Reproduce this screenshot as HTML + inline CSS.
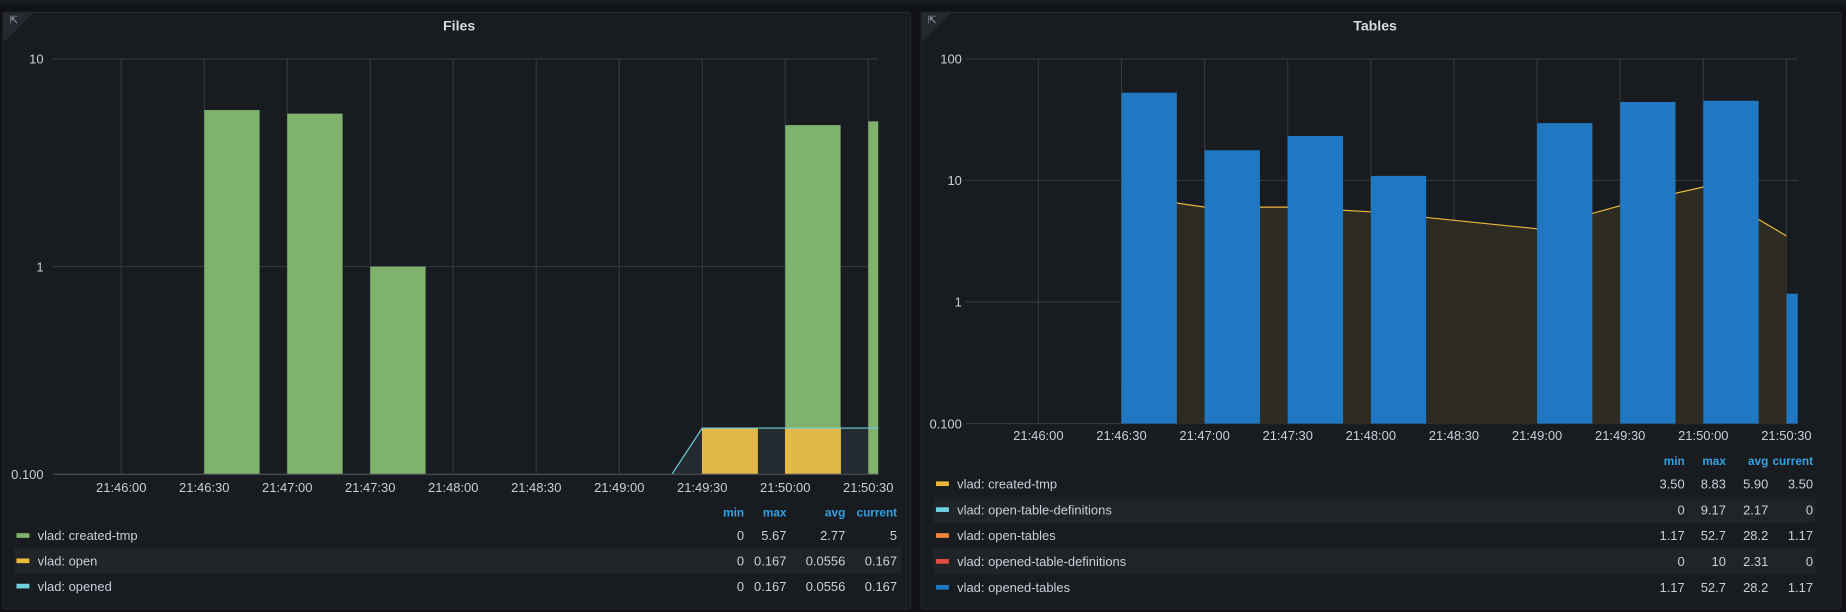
<!DOCTYPE html>
<html><head><meta charset="utf-8">
<style>
html,body{margin:0;padding:0;background:#111217;width:1846px;height:612px;overflow:hidden}
svg{display:block}
text{font-family:"Liberation Sans",sans-serif}
</style></head>
<body>
<svg id="root" width="1846" height="612" viewBox="0 0 1568 520" preserveAspectRatio="none" xmlns="http://www.w3.org/2000/svg">
<rect x="0" y="0" width="1568" height="520" fill="#111217"/>
<rect x="0" y="0" width="1568" height="3" fill="#181b1f"/>
<g>
<rect x="2.5" y="10.5" width="771" height="507" rx="2" fill="#181b1f" stroke="#24272c"/>
<path d="M3 11 L28 11 L3 36 Z" fill="#25282e"/>
<text x="8" y="20" font-size="9" fill="#9fa7b3">⇱</text>
<text x="390" y="26" font-size="12" font-weight="bold" fill="#d8d9da" text-anchor="middle">Files</text>
<g id="filesChart"></g>
<g id="filesLegend"></g>
</g>
<g>
<rect x="782.5" y="10.5" width="781" height="507" rx="2" fill="#181b1f" stroke="#24272c"/>
<path d="M783 11 L808 11 L783 36 Z" fill="#25282e"/>
<text x="788" y="20" font-size="9" fill="#9fa7b3">⇱</text>
<text x="1168" y="26" font-size="12" font-weight="bold" fill="#d8d9da" text-anchor="middle">Tables</text>
<g id="tablesChart"></g>
<g id="tablesLegend"></g>
</g>
</svg>
<script>
// ---------- data ----------
const timeTicks = ["21:46:00","21:46:30","21:47:00","21:47:30","21:48:00","21:48:30","21:49:00","21:49:30","21:50:00","21:50:30"];
// Files panel
const filesYTicks = [10, 1, 0.1];
const filesYTickLabels = ["10","1","0.100"];
const createdTmpTimes = ["21:46:30","21:47:00","21:47:30","21:50:00","21:50:30"];
const createdTmpValues = [5.67, 5.45, 1, 4.8, 5];
const openTimes = ["21:49:30","21:50:00"];
const openValues = [0.167, 0.167];
const openedTimes = ["21:49:19","21:49:30","21:50:00","21:50:30"];
const openedValues = [0.1, 0.167, 0.167, 0.167];
// Tables panel
const tablesYTicks = [100, 10, 1, 0.1];
const tablesYTickLabels = ["100","10","1","0.100"];
const openedTablesTimes = ["21:46:30","21:47:00","21:47:30","21:48:00","21:49:00","21:49:30","21:50:00","21:50:30"];
const openedTablesValues = [52.7, 17.7, 23.2, 10.9, 29.6, 44.2, 45.2, 1.17];
const tablesTmpTimes = ["21:46:30","21:47:00","21:47:30","21:48:00","21:48:30","21:49:00","21:49:30","21:50:00","21:50:30"];
const tablesTmpValues = [7.6, 6.03, 6.03, 5.52, 4.7, 4.0, 6.2, 8.83, 3.5];
// Legends
const filesLegendNames = ["vlad: created-tmp","vlad: open","vlad: opened"];
const filesLegendColors = ["#7eb26d","#eab839","#6ed0e0"];
const filesLegendMin = ["0","0","0"];
const filesLegendMax = ["5.67","0.167","0.167"];
const filesLegendAvg = ["2.77","0.0556","0.0556"];
const filesLegendCur = ["5","0.167","0.167"];
const tablesLegendNames = ["vlad: created-tmp","vlad: open-table-definitions","vlad: open-tables","vlad: opened-table-definitions","vlad: opened-tables"];
const tablesLegendColors = ["#eab839","#6ed0e0","#ef843c","#e24d42","#1f78c1"];
const tablesLegendMin = ["3.50","0","1.17","0","1.17"];
const tablesLegendMax = ["8.83","9.17","52.7","10","52.7"];
const tablesLegendAvg = ["5.90","2.17","28.2","2.31","28.2"];
const tablesLegendCur = ["3.50","0","1.17","0","1.17"];

// ---------- helpers ----------
const NS="http://www.w3.org/2000/svg";
function mk(parent,tag,attrs){const e=document.createElementNS(NS,tag);for(const k in attrs)e.setAttribute(k,attrs[k]);parent.appendChild(e);return e;}
function secs(t){const p=t.split(":").map(Number);return p[0]*3600+p[1]*60+p[2];}
function makeX(x0,pxPer30){const t0=secs("21:46:00");return t=>x0+(secs(t)-t0)/30*pxPer30;}
function makeY(yTop,topVal,decade){return v=>yTop+(Math.log10(topVal)-Math.log10(v))*decade;}

function drawAxes(g,X,Y,plotL,plotR,yTicks,yLabels,labelX,xLabelY,bottomY,prefix){
  yTicks.forEach((v,i)=>{
    const l=mk(g,"line",{x1:plotL,x2:plotR,y1:Y(v),y2:Y(v),stroke:"#34373c","stroke-width":1});
    
    
    const t=mk(g,"text",{x:labelX,y:Y(v)+4,"font-size":11,fill:"#c7d0d9","text-anchor":"end"});
    t.textContent=yLabels[i];
    
    
  });
  timeTicks.forEach(tk=>{
    const x=X(tk);
    const l=mk(g,"line",{x1:x,x2:x,y1:Y(yTicks[0]),y2:bottomY,stroke:"#34373c","stroke-width":1});
    
    
    const t=mk(g,"text",{x:x,y:xLabelY,"font-size":11,fill:"#c7d0d9","text-anchor":"middle"});
    t.textContent=tk;
    
    
  });
}

function drawLegend(g,names,colors,mins,maxs,avgs,curs,x0,x1,headY,rowY0,rowH,cols,prefix){
  const heads=["min","max","avg","current"];
  heads.forEach((h,i)=>{
    const t=mk(g,"text",{x:cols[i],y:headY,"font-size":10,"font-weight":"bold",fill:"#33a2e5","text-anchor":"end"});
    t.textContent=h;
    
    
  });
  names.forEach((n,i)=>{
    const cy=rowY0+i*rowH;
    if(i%2===1){const r=mk(g,"rect",{x:x0,y:cy-rowH/2,width:x1-x0,height:rowH,fill:"#202328"});
      
      }
    const row=mk(g,"g",{});
    
    
    mk(row,"rect",{x:x0+2,y:cy-2,width:11,height:4,fill:colors[i]});
    const t=mk(row,"text",{x:x0+20,y:cy+4,"font-size":11,fill:"#c7d0d9"});t.textContent=n;
    [mins[i],maxs[i],avgs[i],curs[i]].forEach((v,j)=>{
      const tv=mk(row,"text",{x:cols[j],y:cy+4,"font-size":11,fill:"#c7d0d9","text-anchor":"end"});tv.textContent=v;
    });
  });
}

// ---------- Files chart ----------
(function(){
  const g=document.getElementById("filesChart");
  const X=makeX(103,70.5), Y=makeY(50,10,176.5);
  const plotL=45, plotR=746, base=Y(0.1), barW=47;
  drawAxes(g,X,Y,plotL,plotR,filesYTicks,filesYTickLabels,37,418,base,"files");
  const clip=mk(g,"clipPath",{id:"filesClip"});mk(clip,"rect",{x:plotL,y:0,width:plotR-plotL,height:base+1});
  const cg=mk(g,"g",{"clip-path":"url(#filesClip)"});
  let pts=openedTimes.map((t,i)=>[X(t),Y(openedValues[i])]);
  pts.push([plotR+5,Y(openedValues[openedValues.length-1])]);
  const area=mk(cg,"path",{d:"M"+pts[0][0]+","+base+" "+pts.map(p=>"L"+p[0]+","+p[1]).join(" ")+" L"+(plotR+5)+","+base+"Z",fill:"#232b31"});
  
  
  openTimes.forEach((t,i)=>{
    const r=mk(cg,"rect",{x:X(t),y:Y(openValues[i]),width:barW,height:base-Y(openValues[i]),fill:"#e0b94a",stroke:"#e9b735","stroke-width":0.5});
    
    
  });
  createdTmpTimes.forEach((t,i)=>{
    const oi=openTimes.indexOf(t);
    const bottom=oi>=0?Y(openValues[oi]):base;
    const r=mk(cg,"rect",{x:X(t),y:Y(createdTmpValues[i]),width:barW,height:bottom-Y(createdTmpValues[i]),fill:"#7eb26d"});
    
    
  });
  const line=mk(cg,"polyline",{points:pts.map(p=>p.join(",")).join(" "),fill:"none",stroke:"#6ed0e0","stroke-width":1});
  
  
  const ax=mk(g,"line",{x1:plotL,x2:plotR,y1:base,y2:base,stroke:"#4a4d52"});
  
  
})();
drawLegend(document.getElementById("filesLegend"),filesLegendNames,filesLegendColors,filesLegendMin,filesLegendMax,filesLegendAvg,filesLegendCur,12,766,439,455,21.5,[632,668,718,762],"files");

// ---------- Tables chart ----------
(function(){
  const g=document.getElementById("tablesChart");
  const X=makeX(882,70.6), Y=makeY(50,100,103.3);
  const plotL=820, plotR=1527, base=Y(0.1), barW=47;
  drawAxes(g,X,Y,plotL,plotR,tablesYTicks,tablesYTickLabels,817,374,base,"tables");
  const clip=mk(g,"clipPath",{id:"tablesClip"});mk(clip,"rect",{x:plotL,y:0,width:plotR-plotL,height:base+1});
  const cg=mk(g,"g",{"clip-path":"url(#tablesClip)"});
  const pts=tablesTmpTimes.map((t,i)=>[X(t),Y(tablesTmpValues[i])]);
  const area=mk(cg,"path",{d:"M"+pts[0][0]+","+base+" "+pts.map(p=>"L"+p[0]+","+p[1]).join(" ")+" L"+pts[pts.length-1][0]+","+base+"Z",fill:"#2e2b23"});
  
  
  const line=mk(cg,"polyline",{points:pts.map(p=>p.join(",")).join(" "),fill:"none",stroke:"#eab839","stroke-width":1});
  
  
  openedTablesTimes.forEach((t,i)=>{
    const r=mk(cg,"rect",{x:X(t),y:Y(openedTablesValues[i]),width:barW,height:base-Y(openedTablesValues[i]),fill:"#1f78c1"});
    
    
  });
})();
drawLegend(document.getElementById("tablesLegend"),tablesLegendNames,tablesLegendColors,tablesLegendMin,tablesLegendMax,tablesLegendAvg,tablesLegendCur,793,1542,395,411,22,[1431,1466,1502,1540],"tables");
</script>
</body></html>
